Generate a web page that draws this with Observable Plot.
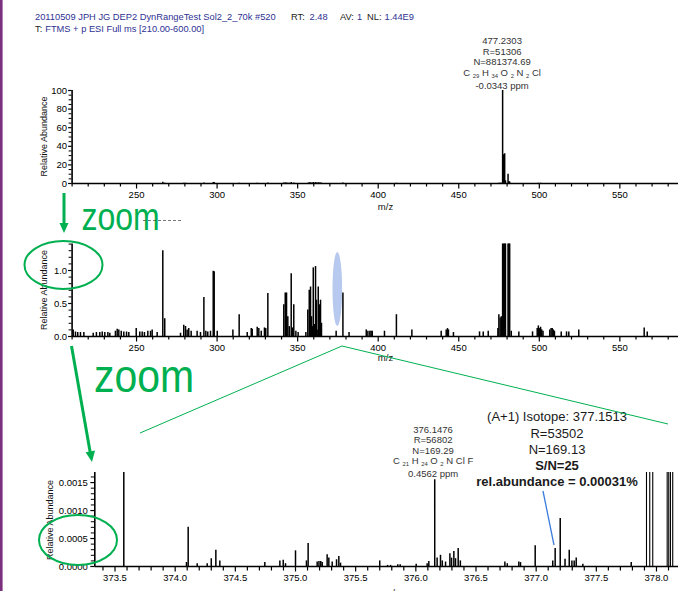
<!DOCTYPE html>
<html><head><meta charset="utf-8">
<script src="https://cdn.jsdelivr.net/npm/d3@7"></script>
<script src="https://cdn.jsdelivr.net/npm/@observablehq/plot@0.6"></script>
<style>
body{margin:0;background:#fff;}
#wrap{position:relative;width:678px;height:591px;overflow:hidden;font-family:"Liberation Sans",Arial,sans-serif;background:#fff;}
#wrap svg{position:absolute;left:0;}
</style></head><body><div id="wrap"></div>
<script>
// ---------- full-scan spectrum (relative abundance, %) ----------
const mzFull = [210.7,212.1,213.5,215.2,217.3,223.1,225.1,227.2,228.7,230.3,232.2,233.4,236.9,238.0,239.0,240.5,242.1,243.8,245.2,249.8,252.0,253.5,254.9,257.0,258.7,259.7,262.8,266.3,267.5,277.3,279.3,280.4,281.4,282.4,283.9,287.6,289.7,291.8,293.0,294.2,295.9,297.6,298.2,300.1,309.8,313.7,318.7,321.2,321.8,324.9,325.9,327.4,329.4,330.2,331.5,
341.4,342.3,343.1,343.9,344.8,346.0,346.8,347.6,348.9,350.3,355.1,
356.3,357.2,358.0,358.6,359.2,359.7,360.3,361.1,361.7,362.1,362.8,363.4,364.2,364.8,
373.9,378.1,381.9,392.6,393.6,394.8,395.6,396.3,403.9,411.3,420.9,439.1,442.2,443.0,443.6,446.7,462.9,465.2,468.3,474.3,474.9,475.7,476.4,
477.23,477.9,478.5,479.0,480.6,481.1,481.6,482.6,487.3,495.8,498.7,499.4,500.1,500.8,501.5,502.3,506.5,507.3,508.0,508.7,509.4,513.6,516.9,518.3,524.5,565.1,567.0];
const abFull = [0.1,0.07,0.06,0.06,0.06,0.05,0.06,0.06,0.07,0.06,0.06,0.05,0.08,0.11,0.1,0.08,0.07,0.07,0.06,0.12,0.07,0.07,0.06,0.08,0.08,0.1,0.06,1.30,0.27,0.05,0.17,0.15,0.1,0.12,0.08,0.08,0.06,0.59,0.08,0.07,0.08,0.99,0.98,0.08,0.1,0.33,0.06,0.12,0.11,0.14,0.12,0.08,0.13,0.12,0.65,
0.48,0.66,0.66,0.3,0.15,0.95,0.13,0.48,0.08,0.06,0.06,
0.4,0.7,0.75,0.3,0.15,1.04,0.18,1.06,0.55,0.1,0.75,0.48,0.55,0.2,
0.08,0.66,0.06,0.1,0.08,0.08,0.08,0.08,0.08,0.33,0.1,0.08,0.1,0.12,0.1,0.06,0.07,0.07,0.08,0.12,0.33,0.28,0.3,
100,31,32,3,10,2,1.6,0.08,0.07,0.07,0.12,0.16,0.12,0.14,0.1,0.08,0.1,0.12,0.12,0.1,0.08,0.07,0.07,0.07,0.1,0.13,0.07];

// ---------- zoomed spectrum 373.3 - 378.2 (relative abundance, %) ----------
const mzZoom = [373.573,374.094,374.108,374.183,374.266,374.300,374.338,374.371,374.745,374.870,374.898,374.917,375.000,375.091,375.105,375.180,375.195,375.210,375.222,375.263,375.277,375.305,375.341,375.360,375.374,375.700,375.765,375.790,375.850,375.870,376.003,376.094,376.108,376.157,376.177,376.205,376.220,376.247,376.283,376.297,376.316,376.330,376.352,376.370,376.740,376.760,376.856,376.870,376.992,377.138,377.158,377.200,377.240,377.275,377.297,377.316,377.333,377.388,377.790];
const abZoom = [0.0019,0.00007,0.0007,0.00005,0.00005,0.00014,0.00029,0.0001,0.00007,0.0001,0.00011,0.00005,0.00028,0.0001,0.00041,0.00008,0.00009,0.00009,0.00007,0.00021,0.00015,0.00008,0.00012,0.00018,0.00006,0.0001,0.00002,0.00002,0.00003,0.00003,0.00004,0.00005,0.00009,0.00155,0.00015,0.0002,0.0001,0.00008,0.00023,0.00015,0.00027,0.00014,0.00032,0.0001,0.00008,0.00005,0.00008,0.00007,0.00037,0.0001,0.00032,0.00086,0.00013,0.00029,0.0001,0.0001,0.00015,0.00004,0.00007];
const mzZoomTall = [377.917,377.944,377.969,378.089,378.102,378.116,378.135];
const abZoomTall = [0.0025,0.0025,0.0025,0.0025,0.0025,0.0025,0.0025];

// ---------- ticks ----------
const xMajorFull = [250,300,350,400,450,500,550];
const xMinorFull = [210,220,230,240,260,270,280,290,310,320,330,340,360,370,380,390,410,420,430,440,460,470,480,490,510,520,530,540,560,570,580];
const yMajorTop = [0,20,40,60,80,100];
const yMinorTop = [5,10,15,25,30,35,45,50,55,65,70,75,85,90,95];
const yMajorMid = [0,0.5,1.0];
const yMinorMid = [0.1,0.2,0.3,0.4,0.6,0.7,0.8,0.9,1.1,1.2,1.3,1.4];
const xMajorZoom = [373.5,374.0,374.5,375.0,375.5,376.0,376.5,377.0,377.5,378.0];
const xMinorZoom = [373.4,373.6,373.7,373.8,373.9,374.1,374.2,374.3,374.4,374.6,374.7,374.8,374.9,375.1,375.2,375.3,375.4,375.6,375.7,375.8,375.9,376.1,376.2,376.3,376.4,376.6,376.7,376.8,376.9,377.1,377.2,377.3,377.4,377.6,377.7,377.8,377.9,378.1];
const yMajorZoom = [0,0.0005,0.0010,0.0015];
const yMinorZoom = [0.0001,0.0002,0.0003,0.0004,0.0006,0.0007,0.0008,0.0009,0.0011,0.0012,0.0013,0.0014,0.0016];

const spec = mzFull.map((mz, i) => ({mz, ab: abFull[i]}));
const zoomSpec = mzZoom.map((mz, i) => ({mz, ab: abZoom[i]}));
const zoomTall = mzZoomTall.map((mz, i) => ({mz, ab: abZoomTall[i]}));

const FONT = '"Liberation Sans", Arial, sans-serif';
const baseStyle = {fontFamily: FONT, fontSize: "9.5px", color: "#000", background: "transparent", overflow: "visible"};
const none = () => "";
const wrap = document.getElementById("wrap");

function place(svg, top) { svg.style.top = top + "px"; wrap.appendChild(svg); return svg; }

// ---------- top panel ----------
const topChart = Plot.plot({
  width: 678, height: 213, marginLeft: 71.6, marginRight: 0, marginTop: 90, marginBottom: 30,
  style: baseStyle,
  x: {domain: [210, 586.4]},
  y: {domain: [0, 100]},
  marks: [
    Plot.ruleX(spec, {x: "mz", y1: 0, y2: "ab", stroke: "#000", strokeWidth: 1.5, clip: true}),
    Plot.axisX({ticks: xMajorFull, tickSize: 5.5, tickPadding: 2, tickFormat: d => String(d), strokeWidth: 1.2, label: null}),
    Plot.axisX({ticks: xMinorFull, tickSize: 3.5, tickFormat: none, strokeWidth: 1.2, label: null}),
    Plot.axisY({ticks: yMajorTop, tickSize: 3.5, tickPadding: 1.5, tickFormat: d => String(d), strokeWidth: 1.2, label: null}),
    Plot.axisY({ticks: yMinorTop, tickSize: 3, tickFormat: none, strokeWidth: 1, label: null}),
    Plot.ruleY([0], {strokeWidth: 1.6}),
    Plot.ruleX([210], {strokeWidth: 1.6})
  ]
});
place(topChart, 0);

// ---------- middle panel ----------
const midChart = Plot.plot({
  width: 678, height: 150, marginLeft: 71.6, marginRight: 0, marginTop: 30.6, marginBottom: 27,
  style: baseStyle,
  x: {domain: [210, 586.4]},
  y: {domain: [0, 1.4]},
  marks: [
    Plot.ruleX(spec, {x: "mz", y1: 0, y2: "ab", stroke: "#000", strokeWidth: 1.5, clip: true}),
    Plot.axisX({ticks: xMajorFull, tickSize: 5.5, tickPadding: 2, tickFormat: d => String(d), strokeWidth: 1.2, label: null}),
    Plot.axisX({ticks: xMinorFull, tickSize: 3.5, tickFormat: none, strokeWidth: 1.2, label: null}),
    Plot.axisY({ticks: yMajorMid, tickSize: 3.5, tickPadding: 1.5, tickFormat: d3.format(".1f"), strokeWidth: 1.2, label: null}),
    Plot.axisY({ticks: yMinorMid, tickSize: 3, tickFormat: none, strokeWidth: 1, label: null}),
    Plot.ruleY([0], {strokeWidth: 1.6}),
    Plot.ruleX([210], {strokeWidth: 1.6})
  ]
});
place(midChart, 213);

// ---------- bottom panel ----------
const botChart = Plot.plot({
  width: 678, height: 228, marginLeft: 94.3, marginRight: 0, marginTop: 109, marginBottom: 25,
  style: baseStyle,
  x: {domain: [373.332, 378.183]},
  y: {domain: [0, 0.00168]},
  marks: [
    Plot.ruleX(zoomSpec, {x: "mz", y1: 0, y2: "ab", stroke: "#000", strokeWidth: 1.5, clip: true}),
    Plot.ruleX(zoomTall, {x: "mz", y1: 0, y2: "ab", stroke: "#000", strokeWidth: 1.1, clip: true}),
    Plot.axisX({ticks: xMajorZoom, tickSize: 5.5, tickPadding: 2, tickFormat: d3.format(".1f"), strokeWidth: 1.2, label: null}),
    Plot.axisX({ticks: xMinorZoom, tickSize: 4.5, tickFormat: none, strokeWidth: 1.2, label: null}),
    Plot.axisY({ticks: yMajorZoom, tickSize: 4, tickPadding: 3, tickFormat: d3.format(".4f"), strokeWidth: 1.2, label: null}),
    Plot.axisY({ticks: yMinorZoom, tickSize: 3.5, tickFormat: none, strokeWidth: 1, label: null}),
    Plot.ruleY([0], {strokeWidth: 1.6}),
    Plot.ruleX([373.332], {strokeWidth: 1.6})
  ]
});
place(botChart, 363);

// ---------- overlay: texts and annotations ----------
const ov = d3.select(wrap).append("svg")
  .attr("width", 678).attr("height", 591)
  .style("top", "0px").style("pointer-events", "none")
  .attr("font-family", FONT);

// purple page edge
ov.append("rect").attr("x", 0).attr("y", 0).attr("width", 2.6).attr("height", 591).attr("fill", "#7a2f7f");

// header
const BLUE = "#2e3192", DARK = "#222";
const h1 = ov.append("text").attr("y", 20).attr("font-size", 9.3);
h1.append("tspan").attr("x", 35).attr("fill", BLUE).text("20110509 JPH JG DEP2 DynRangeTest Sol2_2_70k #520");
h1.append("tspan").attr("x", 291).attr("fill", DARK).text("RT:");
h1.append("tspan").attr("x", 309.5).attr("fill", BLUE).text("2.48");
h1.append("tspan").attr("x", 340).attr("fill", DARK).text("AV:");
h1.append("tspan").attr("x", 357).attr("fill", BLUE).text("1");
h1.append("tspan").attr("x", 367).attr("fill", DARK).text("NL:");
h1.append("tspan").attr("x", 384.5).attr("fill", BLUE).text("1.44E9");
const h2 = ov.append("text").attr("y", 31.5).attr("font-size", 9.3);
h2.append("tspan").attr("x", 35).attr("fill", DARK).text("T:");
h2.append("tspan").attr("dx", 3).attr("fill", BLUE).text("FTMS + p ESI Full ms [210.00-600.00]");

// y-axis titles and m/z labels
function yTitle(cx, cy) {
  ov.append("text").attr("transform", `translate(${cx},${cy}) rotate(-90)`)
    .attr("text-anchor", "middle").attr("font-size", 9).attr("fill", "#111").text("Relative Abundance");
}
yTitle(46.5, 136.5); yTitle(46.5, 290); yTitle(52.5, 520);
function mzLabel(cx, by) {
  ov.append("text").attr("x", cx).attr("y", by).attr("text-anchor", "middle").attr("font-size", 9.5).attr("fill", "#111").text("m/z");
}
mzLabel(385.5, 209.5); mzLabel(385.5, 360.5); mzLabel(392, 596);

// formula helper: parts [text, isSub]
function formula(x, y, parts, size) {
  const t = ov.append("text").attr("x", x).attr("y", y).attr("text-anchor", "middle").attr("font-size", size).attr("fill", "#333");
  parts.forEach(([s, sub]) => {
    const ts = t.append("tspan").text(s);
    if (sub) ts.attr("font-size", size * 0.62).attr("baseline-shift", "-25%");
  });
}
function peakLabel(cx, lines, fy, formulaParts) {
  lines.forEach(([s, y]) => {
    ov.append("text").attr("x", cx).attr("y", y).attr("text-anchor", "middle").attr("font-size", 9.5).attr("fill", "#333").text(s);
  });
  formula(cx, fy, formulaParts, 9.5);
}
const xTop = topChart.scale("x").apply(477.2303);
peakLabel(xTop, [["477.2303", 43.5], ["R=51306", 54.5], ["N=881374.69", 65], ["-0.0343 ppm", 88.5]], 75.5,
  [["C ", false], ["29", true], [" H ", false], ["34", true], [" O ", false], ["2", true], [" N ", false], ["2", true], [" Cl", false]]);
const xBot = botChart.scale("x").apply(376.1476);
peakLabel(xBot, [["376.1476", 432.7], ["R=56802", 443.4], ["N=169.29", 453.6], ["0.4562 ppm", 476.8]], 464.2,
  [["C ", false], ["21", true], [" H ", false], ["24", true], [" O ", false], ["2", true], [" N Cl F", false]]);

// isotope annotation
const iso = [["(A+1) Isotope: 377.1513", 421.4, "normal"], ["R=53502", 438, "normal"], ["N=169.13", 454, "normal"], ["S/N=25", 470.4, "bold"], ["rel.abundance = 0.00031%", 485.8, "bold"]];
iso.forEach(([s, y, w]) => ov.append("text").attr("x", 557).attr("y", y).attr("text-anchor", "middle")
  .attr("font-size", 13).attr("font-weight", w).attr("fill", "#1a1a1a").text(s));
ov.append("line").attr("x1", 543).attr("y1", 491).attr("x2", 554).attr("y2", 545).attr("stroke", "#3b7ddd").attr("stroke-width", 1.3);

// blue highlight ellipse on middle panel
ov.append("ellipse").attr("cx", 337.3).attr("cy", 289).attr("rx", 4.8).attr("ry", 37).attr("fill", "#b7c9ef");

// green annotations
const G = "#00b050";
// arrow 1
ov.append("line").attr("x1", 64).attr("y1", 193).attr("x2", 64).attr("y2", 225).attr("stroke", G).attr("stroke-width", 3);
ov.append("path").attr("d", "M59.5,223 L68.5,223 L64,233 Z").attr("fill", G);
// zoom texts
ov.append("text").attr("transform", "translate(81.5,230) scale(1,1.2)").attr("font-size", 32).attr("fill", G).text("zoom");
ov.append("line").attr("x1", 143).attr("y1", 220.5).attr("x2", 182).attr("y2", 220.5).attr("stroke", "#555").attr("stroke-width", 0.8).attr("stroke-dasharray", "3,2");
ov.append("text").attr("transform", "translate(94,392) scale(1,1.13)").attr("font-size", 41).attr("fill", G).text("zoom");
// ellipses
ov.append("ellipse").attr("cx", 63.5).attr("cy", 265).attr("rx", 39).attr("ry", 24).attr("fill", "none").attr("stroke", G).attr("stroke-width", 2);
ov.append("ellipse").attr("cx", 78).attr("cy", 540).attr("rx", 39).attr("ry", 25).attr("fill", "none").attr("stroke", G).attr("stroke-width", 2);
// arrow 2
ov.append("line").attr("x1", 71.5).attr("y1", 346).attr("x2", 90.3).attr("y2", 453).attr("stroke", G).attr("stroke-width", 3);
ov.append("path").attr("d", "M85.6,452.2 L95.0,450.6 L92,462 Z").attr("fill", G);
// zoom-region lines
ov.append("line").attr("x1", 342).attr("y1", 346).attr("x2", 140).attr("y2", 433).attr("stroke", G).attr("stroke-width", 1);
ov.append("line").attr("x1", 342).attr("y1", 346).attr("x2", 668).attr("y2", 424).attr("stroke", G).attr("stroke-width", 1);
</script></body></html>
